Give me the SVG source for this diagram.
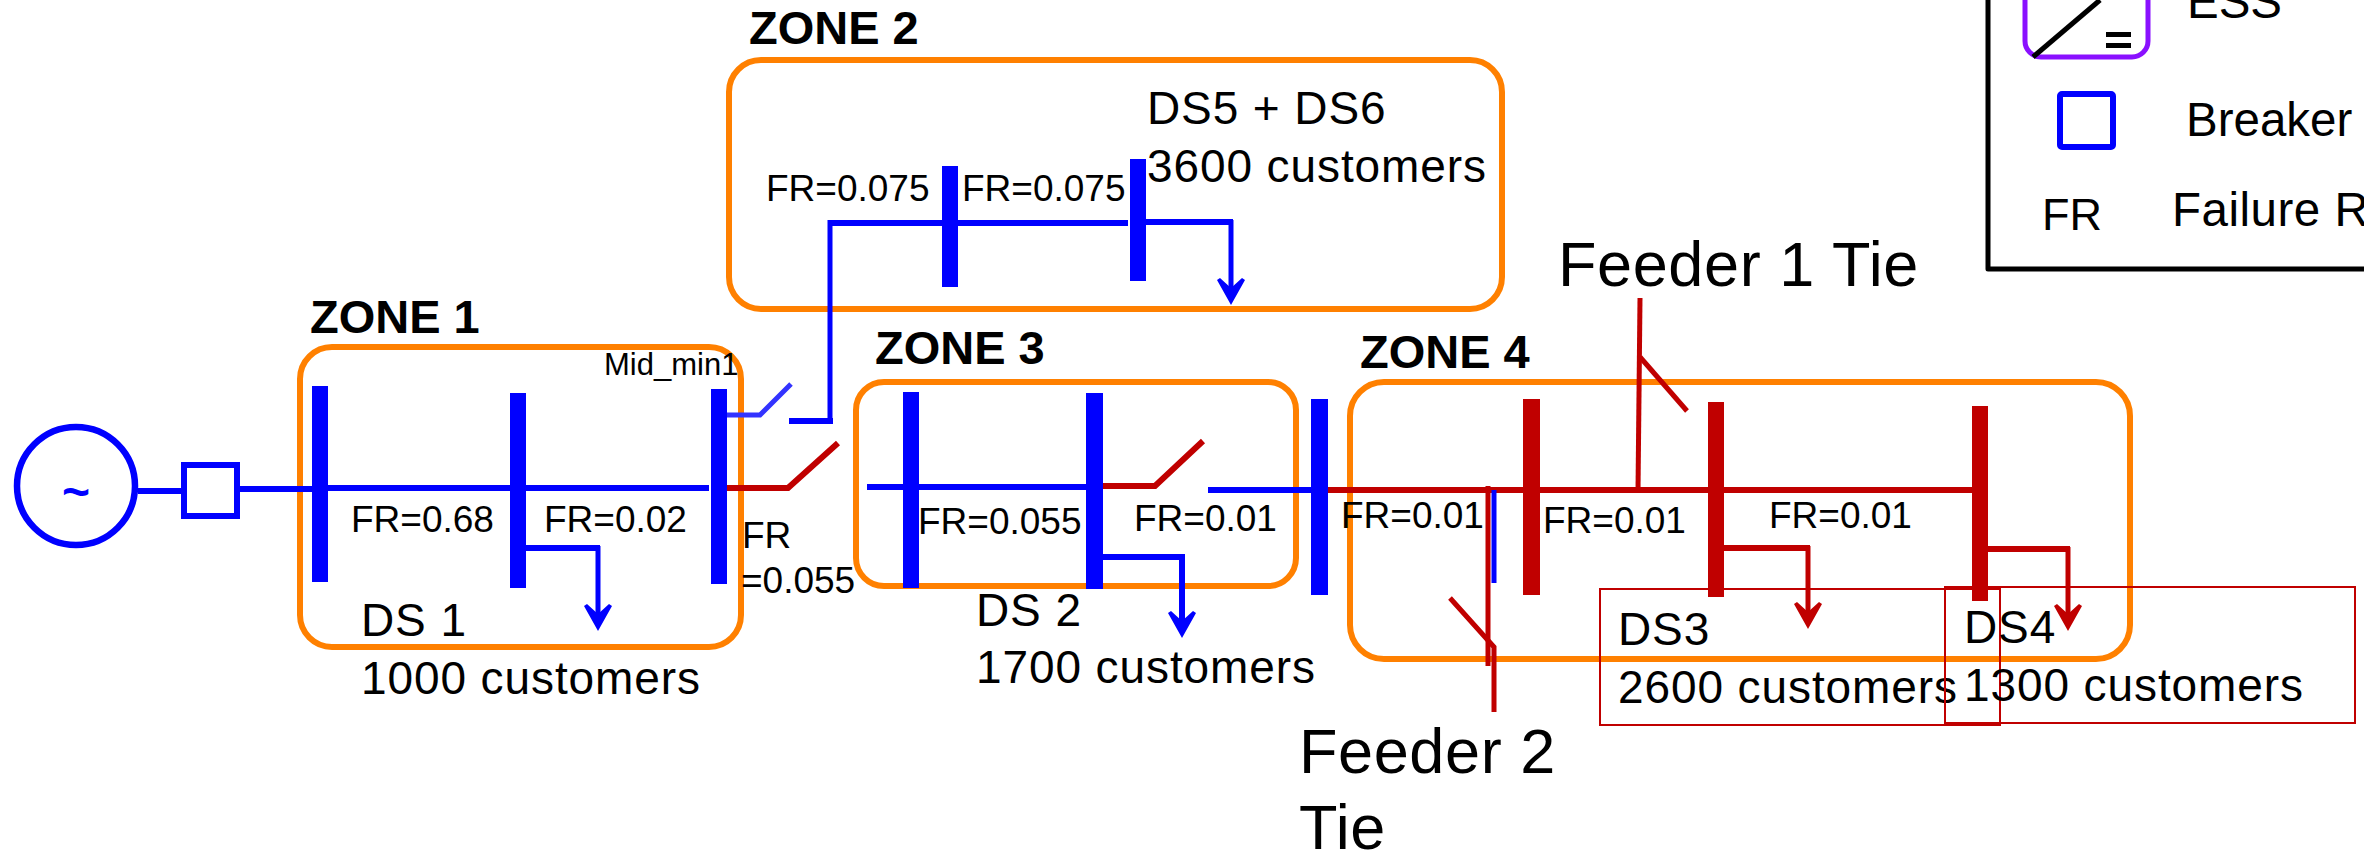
<svg xmlns="http://www.w3.org/2000/svg" width="2364" height="855" viewBox="0 0 2364 855">
<style>
text{font-family:"Liberation Sans",Arial,sans-serif;fill:#000}
.zone{fill:none;stroke:#ff8000;stroke-width:6}
.zt{font-weight:bold;font-size:47px}
.fr{font-size:37px}
.ds{font-size:46px;letter-spacing:.9px}
.big{font-size:63px;letter-spacing:.6px}
.bb{fill:#0000ff}
.br{fill:#c00000}
.lb{fill:none;stroke:#0000ff;stroke-width:6;stroke-linejoin:miter}
.lr{fill:none;stroke:#c00000;stroke-width:6;stroke-linejoin:miter}
.ls{fill:none;stroke:#3333ff;stroke-width:5}
.thin{stroke-width:5}
.box{fill:none;stroke:#c00000;stroke-width:2}
.ab{marker-end:url(#ah-b)}
.ar{marker-end:url(#ah-r)}
.lg{font-size:47.500px}
</style>
<defs>
<marker id="ah-b" markerUnits="userSpaceOnUse" viewBox="0 0 27 28" markerWidth="27" markerHeight="28" refX="12" refY="14" orient="auto"><path d="M27 14L2 0L0 3L10 14L0 25L2 28Z" fill="#0000ff"/></marker>
<marker id="ah-r" markerUnits="userSpaceOnUse" viewBox="0 0 27 28" markerWidth="27" markerHeight="28" refX="12" refY="14" orient="auto"><path d="M27 14L2 0L0 3L10 14L0 25L2 28Z" fill="#c00000"/></marker>
</defs>

<g id="zone-1"><rect class="zone" x="300" y="347" width="441" height="300" rx="32"/><text class="zt" x="310" y="333">ZONE 1</text></g>
<g id="zone-2"><rect class="zone" x="729" y="60" width="773" height="249" rx="32"/><text class="zt" x="749" y="44">ZONE 2</text></g>
<g id="zone-3"><rect class="zone" x="856" y="382" width="440" height="204" rx="28"/><text class="zt" x="875" y="364">ZONE 3</text></g>
<g id="zone-4"><rect class="zone" x="1350" y="382" width="780" height="277" rx="34"/><text class="zt" x="1360" y="368">ZONE 4</text></g>

<g id="connectors">
<path class="lb" d="M138 491H182"/>
<path class="lb" d="M240 489H313"/>
<path class="lb" d="M313 488H709"/>
<path class="lr" d="M724 488H788L838 443"/>
<path class="ls" d="M721 415H760L791 384"/>
<path class="lb" d="M789 421H833"/>
<path class="lb thin" d="M830 424V220"/>
<path class="lb" d="M828 223H1128"/>
<path class="lb" d="M867 487H1090"/>
<path class="lr" d="M1090 486H1155L1203 441"/>
<path class="lb" d="M1208 490H1313"/>
<path class="lr" d="M1328 490H1972"/>
<path class="lb thin" d="M1494 490V583"/>
<path class="lr thin" d="M1488 486V666"/>
<path class="lr thin" d="M1450 598L1494 647V712"/>
<path class="lr thin" d="M1638 491L1640 298"/>
<path class="lr thin" d="M1640 357L1687 411"/>
<path class="lb" d="M526 548H600"/>
<path class="lb ab thin" d="M598 546V616"/>
<path class="lb" d="M1146 222H1233"/>
<path class="lb ab thin" d="M1231 220V290"/>
<path class="lb" d="M1103 557H1185"/>
<path class="lb ab" d="M1182 555V623"/>
<path class="lr" d="M1724 548H1810"/>
<path class="lr ar thin" d="M1808 546V614"/>
<path class="lr" d="M1988 549H2070"/>
<path class="lr ar thin" d="M2068 547V616"/>
</g>

<g id="source"><circle cx="76" cy="486" r="59" fill="#fff" stroke="#0000ff" stroke-width="6.500"/><text x="76" y="508" text-anchor="middle" font-size="48" font-weight="bold" style="fill:#0000ff">~</text></g>
<g id="breaker"><rect x="184" y="465" width="53" height="51" fill="#fff" stroke="#0000ff" stroke-width="6"/></g>

<g id="bus-1"><rect class="bb" x="312" y="386" width="16" height="196"/></g>
<g id="bus-2"><rect class="bb" x="510" y="393" width="16" height="195"/></g>
<g id="bus-3"><rect class="bb" x="711" y="389" width="16" height="195"/></g>
<g id="bus-4"><rect class="bb" x="942" y="166" width="16" height="121"/></g>
<g id="bus-5"><rect class="bb" x="1130" y="159" width="16" height="122"/></g>
<g id="bus-6"><rect class="bb" x="903" y="392" width="16" height="196"/></g>
<g id="bus-7"><rect class="bb" x="1086" y="393" width="17" height="196"/></g>
<g id="bus-8"><rect class="bb" x="1311" y="399" width="17" height="196"/></g>
<g id="bus-9"><rect class="br" x="1523" y="399" width="17" height="196"/></g>
<g id="bus-10"><rect class="br" x="1708" y="402" width="16" height="195"/></g>
<g id="bus-11"><rect class="br" x="1972" y="406" width="16" height="195"/></g>

<g id="ds-1"><text class="ds" x="361" y="636">DS 1</text><text class="ds" x="361" y="694">1000 customers</text></g>
<g id="ds-2"><text class="ds" x="976" y="626">DS 2</text><text class="ds" x="976" y="683">1700 customers</text></g>
<g id="ds-3"><rect class="box" x="1600" y="589" width="400" height="136"/><text class="ds" x="1618" y="645">DS3</text><text class="ds" x="1618" y="703">2600 customers</text></g>
<g id="ds-4"><rect class="box" x="1945" y="587" width="410" height="136"/><text class="ds" x="1964" y="643">DS4</text><text class="ds" x="1964" y="701">1300 customers</text></g>
<g id="ds-56"><text class="ds" x="1147" y="124">DS5 + DS6</text><text class="ds" x="1147" y="182">3600 customers</text></g>

<g id="labels">
<text x="604" y="375" font-size="31">Mid_min1</text>
<text class="fr" x="351" y="532">FR=0.68</text>
<text class="fr" x="544" y="532">FR=0.02</text>
<text class="fr" x="742" y="548">FR</text>
<text class="fr" x="741" y="593">=0.055</text>
<text class="fr" x="766" y="201">FR=0.075</text>
<text class="fr" x="962" y="201">FR=0.075</text>
<text class="fr" x="918" y="534">FR=0.055</text>
<text class="fr" x="1134" y="531">FR=0.01</text>
<text class="fr" x="1341" y="528">FR=0.01</text>
<text class="fr" x="1543" y="533">FR=0.01</text>
<text class="fr" x="1769" y="528">FR=0.01</text>
<text class="big" x="1558" y="286">Feeder 1 Tie</text>
<text class="big" x="1299" y="773">Feeder 2</text>
<text class="big" x="1299" y="849">Tie</text>
</g>

<g id="legend">
<path d="M1988 -5V269H2370" fill="none" stroke="#000" stroke-width="5" stroke-linejoin="round"/>
<rect x="2025" y="-30" width="123" height="87" rx="16" fill="none" stroke="#8a10ff" stroke-width="5"/>
<path d="M2033 57L2100 0" stroke="#000" stroke-width="5" fill="none"/>
<path d="M2106 34.500H2131M2106 45.500H2131" stroke="#000" stroke-width="5" fill="none"/>
<text class="lg" x="2187" y="18">ESS</text>
<rect x="2060" y="94" width="53" height="53" rx="2" fill="none" stroke="#0000ff" stroke-width="6"/>
<text class="lg" x="2186" y="136">Breaker</text>
<text x="2042" y="230" font-size="45">FR</text>
<text class="lg" x="2172" y="226" style="letter-spacing:.5px">Failure R</text>
</g>
</svg>
